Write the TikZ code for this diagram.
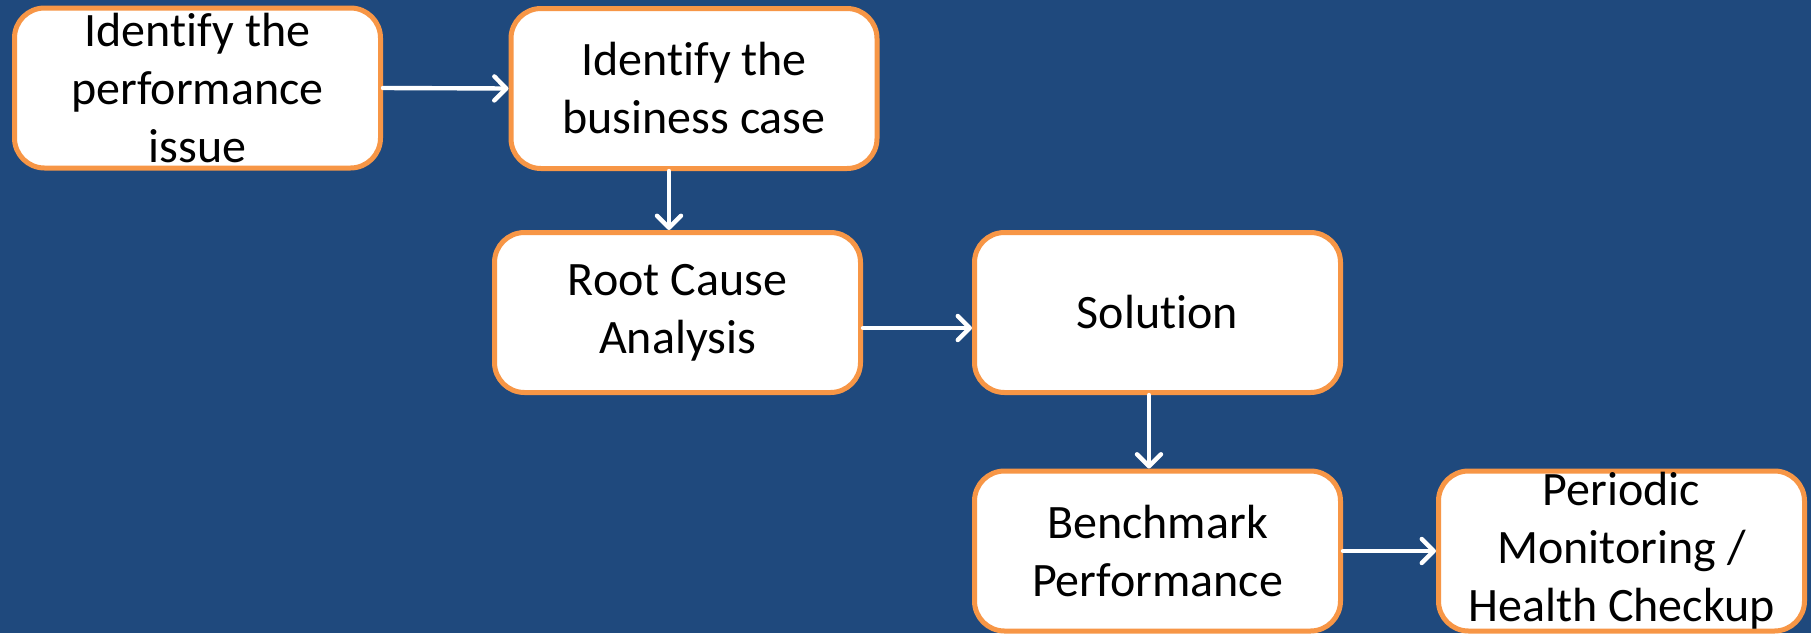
\documentclass[tikz,border=0pt]{standalone}
\usepackage{fontspec}
\setmainfont{Carlito}[Ligatures=NoCommon]
\usetikzlibrary{arrows.meta}
\definecolor{bgblue}{HTML}{1F497D}
\definecolor{boxorange}{HTML}{F79646}
\tikzset{
  stepbox/.style={draw=boxorange, fill=white, line width=2.5pt, rounded corners=15pt,
    minimum width=183pt, minimum height=80pt, align=center, inner sep=0pt,
    font=\fontsize{24}{29}\selectfont, text=black},
  arr/.style={draw=white, line width=2.2pt, line cap=round, line join=round,
    -{Straight Barb[length=6pt,width=12pt,line cap=round,line join=round]}}
}
\begin{document}
\begin{tikzpicture}[x=0.5pt,y=-0.5pt]
\fill[bgblue] (0,0) rectangle (1811,633);
\useasboundingbox (0,0) rectangle (1811,633);
\node[stepbox] (b1) at (197.5,88) {Identify the\\performance\\issue};
\node[stepbox] (b2) at (694,88.5) {Identify the\\business case};
\node[stepbox] (b3) at (677.5,312.5) {Root Cause\\Analysis};
\node[stepbox] (b4) at (1157.5,312.5) {Solution};
\node[stepbox] (b5) at (1157.5,551) {Benchmark\\Performance};
\node[stepbox] (b6) at (1621.5,551) {Periodic\\Monitoring /\\Health Checkup};
\draw[arr] (b1.east) -- (b2.west);
\draw[arr] ([xshift=-12.5pt]b2.south) -- ([xshift=-4.25pt]b3.north);
\draw[arr] ([yshift=-7.75pt]b3.east) -- ([yshift=-7.75pt]b4.west);
\draw[arr] ([xshift=-4.25pt]b4.south) -- ([xshift=-4.25pt]b5.north);
\draw[arr] (b5.east) -- (b6.west);
\end{tikzpicture}
\end{document}
